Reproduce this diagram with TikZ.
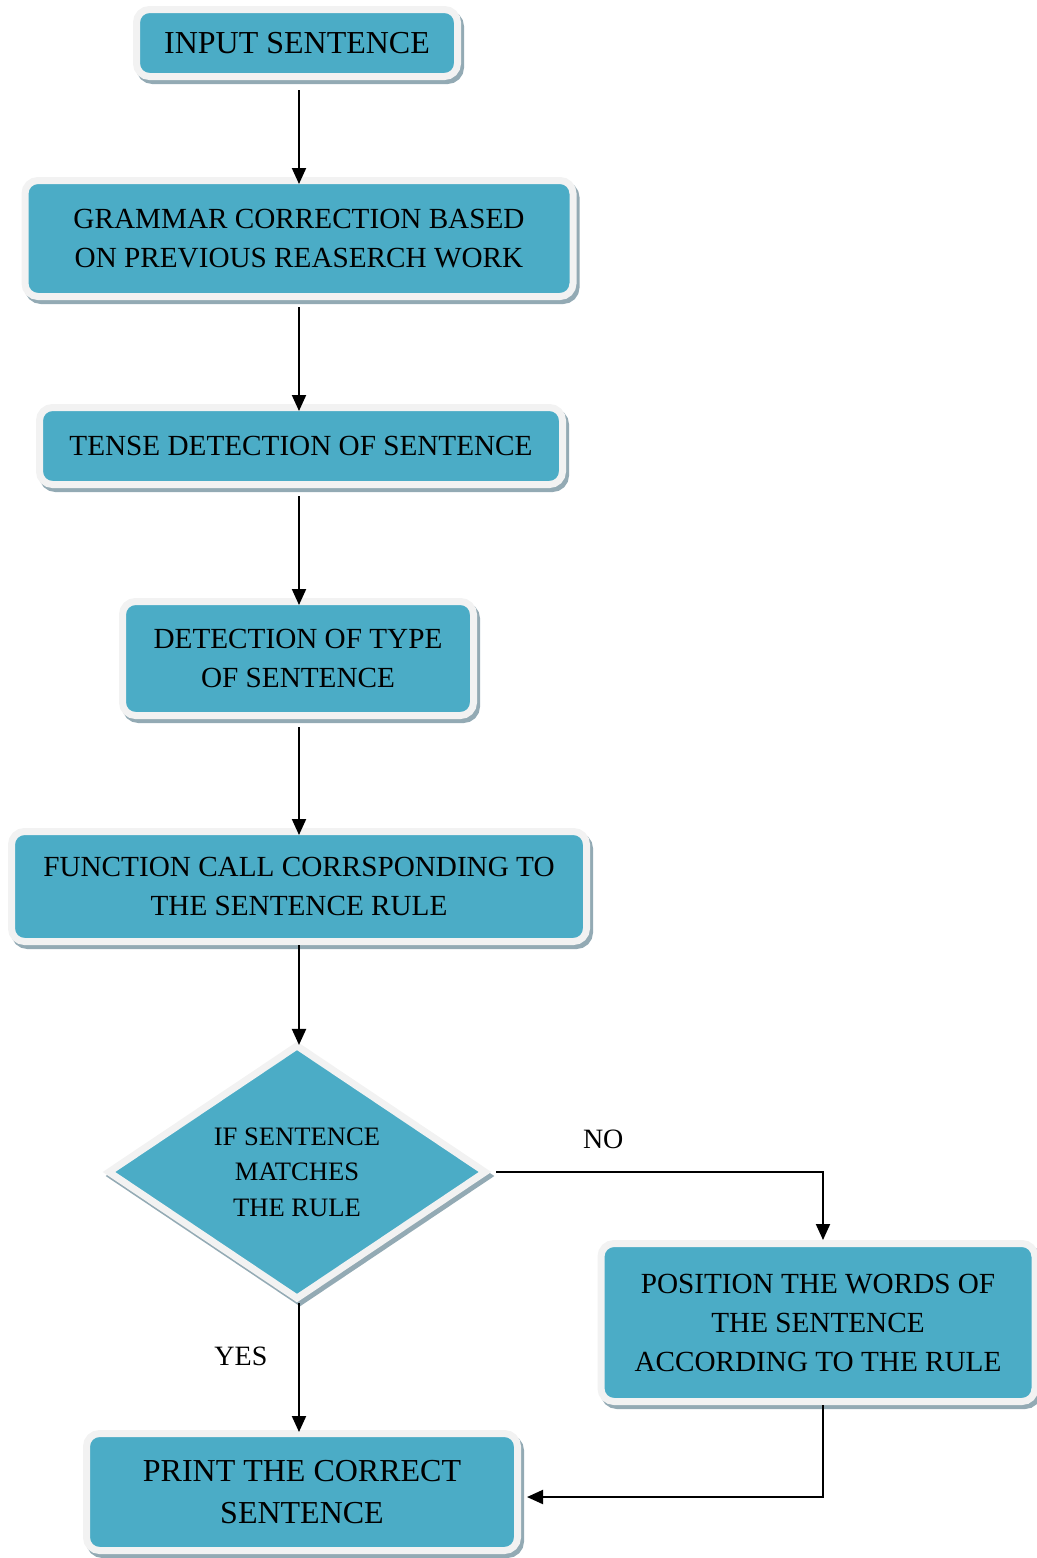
\documentclass[tikz,border=0pt]{standalone}
\usepackage{fontspec}
\setmainfont{Liberation Serif}
\usetikzlibrary{arrows.meta,shapes.geometric,shadows}
\definecolor{boxteal}{HTML}{4BACC6}
\definecolor{boxrim}{HTML}{F2F2F2}
\definecolor{boxshade}{HTML}{93AAB4}

\begin{document}
\begin{tikzpicture}[x={(0.5pt, 0pt)}, y={(0pt, -0.5pt)}]
  \tikzstyle{shade}=[drop shadow={shadow xshift=1.5pt, shadow yshift=-2pt, fill=boxshade, draw=boxshade, line width=3.5pt, opacity=1}]
  \tikzstyle{proc}=[rectangle, rounded corners=6.5pt, fill=boxteal, draw=boxrim, line width=3.5pt, inner sep=0pt, align=center, font=\fontsize{14.6}{19.5}\selectfont, shade]
  \tikzstyle{choice}=[diamond, fill=boxteal, draw=boxrim, line width=3.5pt, inner sep=0pt, align=center, font=\fontsize{13.3}{17.75}\selectfont, shade]
  \tikzstyle{flow}=[-{Triangle[length=8pt, width=7pt]}, line width=1pt, shorten <=4pt, shorten >=-3.5pt]

\useasboundingbox (0, 0) rectangle (1037, 1558);

\node[proc, minimum width=160.5pt, minimum height=33.5pt, font=\fontsize{16}{19.5}\selectfont] (input) at (297, 43) {INPUT SENTENCE};

\node[proc, minimum width=274pt, minimum height=58pt] (grammar) at (299, 238.5) {GRAMMAR CORRECTION BASED\\ON PREVIOUS REASERCH WORK};
\draw[flow, shorten <=5pt] (input.south -| grammar.north) -- (grammar.north);

\node[proc, minimum width=261.5pt, minimum height=38.5pt] (tense) at (301, 446) {TENSE DETECTION OF SENTENCE};
\draw[flow, shorten <=3.5pt] (grammar.south) -- (tense.north -| grammar.south);

\node[proc, minimum width=175.5pt, minimum height=57pt] (type) at (298, 658.5) {DETECTION OF TYPE\\OF SENTENCE};
\draw[flow] (tense.south -| grammar.south) -- (type.north -| grammar.south);

\node[proc, minimum width=287.5pt, minimum height=55pt] (func) at (299, 886.5) {FUNCTION CALL CORRSPONDING TO\\THE SENTENCE RULE};
\draw[flow] (type.south -| func.north) -- (func.north);

\node[choice, minimum width=189.5pt, minimum height=121.7pt] (match) at (297, 1172) {IF SENTENCE\\MATCHES\\THE RULE};
\draw[flow, shorten <=0pt, shorten >=-2pt] (func.south) -- (match.north -| func.south);

\node[proc, minimum width=217pt, minimum height=79pt] (place) at (818, 1322.5) {POSITION THE WORDS OF\\THE SENTENCE\\ACCORDING TO THE RULE};
\draw[flow, shorten <=3pt, shorten >=0pt] (match.east) -| ([xshift=2.5pt]place.north) node[pos=0.17, above=8pt, font=\fontsize{14}{17}\selectfont] {NO};

\node[proc, minimum width=215.5pt, minimum height=58.5pt, font=\fontsize{16}{21}\selectfont] (print) at (302, 1492) {PRINT THE CORRECT\\SENTENCE};
\draw[flow, shorten <=0pt, shorten >=-1pt] (match.south -| func.south) -- (print.north -| func.south) node[pos=0.42, left=12pt, font=\fontsize{14}{17}\selectfont] {YES};
\draw[flow, shorten <=0pt, shorten >=3pt] ([xshift=2.5pt]place.south) |- ([yshift=-2.5pt]print.east);
\end{tikzpicture}
\end{document}
